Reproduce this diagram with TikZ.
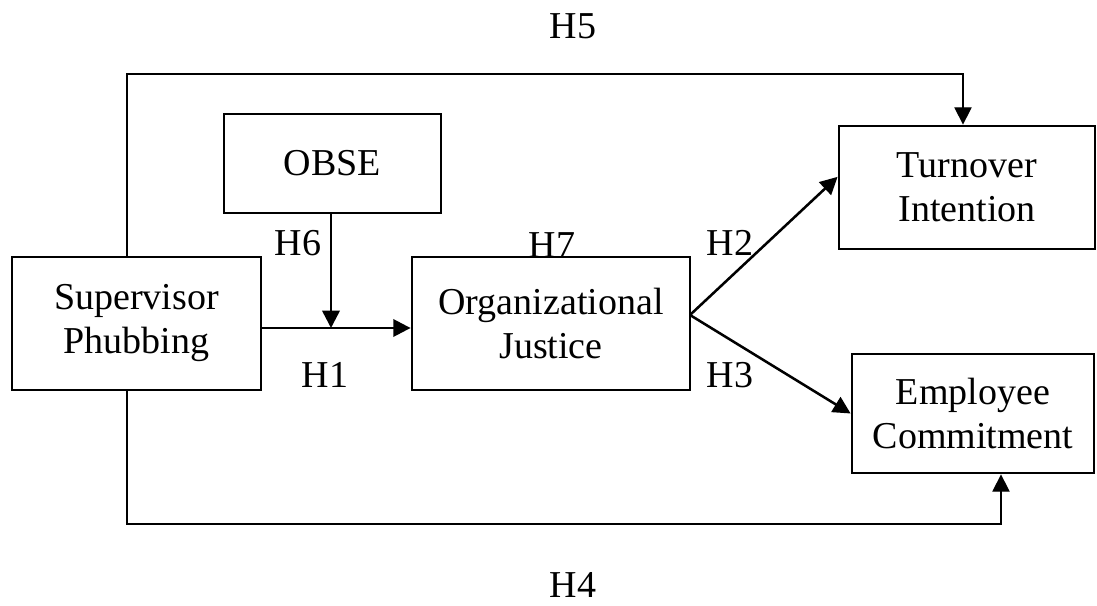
\documentclass[tikz,border=0pt]{standalone}
\usepackage{fontspec}
\setmainfont{Liberation Serif}
\usepackage{tikz}
\usetikzlibrary{arrows.meta, positioning, calc}
\tikzset{
    construct/.style={rectangle, draw=black, line width=2.1pt, align=center,
                      inner sep=0pt, font=\fontsize{28.5}{33}\selectfont},
    arr/.style={line width=1.9pt, -{Triangle[length=13pt, width=13pt]}},
    longarr/.style={line width=1.1pt, -{Triangle[length=13pt, width=13pt]}},
    hyp/.style={font=\fontsize{28.5}{33}\selectfont, inner sep=0pt},
}

\begin{document}
\begin{tikzpicture}[x=0.75pt, y=-0.75pt]
    \useasboundingbox (0,0) rectangle (1097,606);

    \node[construct, minimum width=186.75pt, minimum height=99.75pt] (sup) at (136.5,323.5) {Supervisor\\Phubbing};
    \node[construct, minimum width=162.75pt, minimum height=74.25pt] (obse) at (332.5,163.5) {OBSE};
    \node[construct, minimum width=208.5pt, minimum height=99.75pt] (org) at (551,323.5) {Organizational\\Justice};
    \node[construct, minimum width=192pt, minimum height=92.25pt] (turn) at (967,187.5) {Turnover\\Intention};
    \node[construct, minimum width=181.5pt, minimum height=89.25pt] (emp) at (973,413.5) {Employee\\Commitment};

    \coordinate (mod) at (331,328);
    \coordinate (split) at (690,315);
    \coordinate (topl) at (127,74);
    \coordinate (topr) at (963,74);
    \coordinate (botl) at (127,524);
    \coordinate (botr) at (1001,524);

    \draw[arr] (sup.east |- mod) -- (org.west |- mod);
    \draw[arr] (obse.south -| mod) -- (mod);
    \draw[arr] (split) -- ([yshift=8pt]turn.west);
    \draw[arr] (split) -- (emp.west);
    \draw[longarr] (sup.north -| topl) -- (topl) -- (topr) -- (turn.north -| topr);
    \draw[longarr] (sup.south -| botl) -- (botl) -- (botr) -- (emp.south -| botr);

    \node[hyp] (h1) at (325,375) {H1};
    \node[hyp] (h2) at (730,243) {H2};
    \node[hyp] (h3) at (730,375) {H3};
    \node[hyp] (h4) at (573,585) {H4};
    \node[hyp] (h5) at (573,26) {H5};
    \node[hyp] (h6) at (298,243) {H6};
    \node[hyp] (h7) at (552,245) {H7};
\end{tikzpicture}
\end{document}
